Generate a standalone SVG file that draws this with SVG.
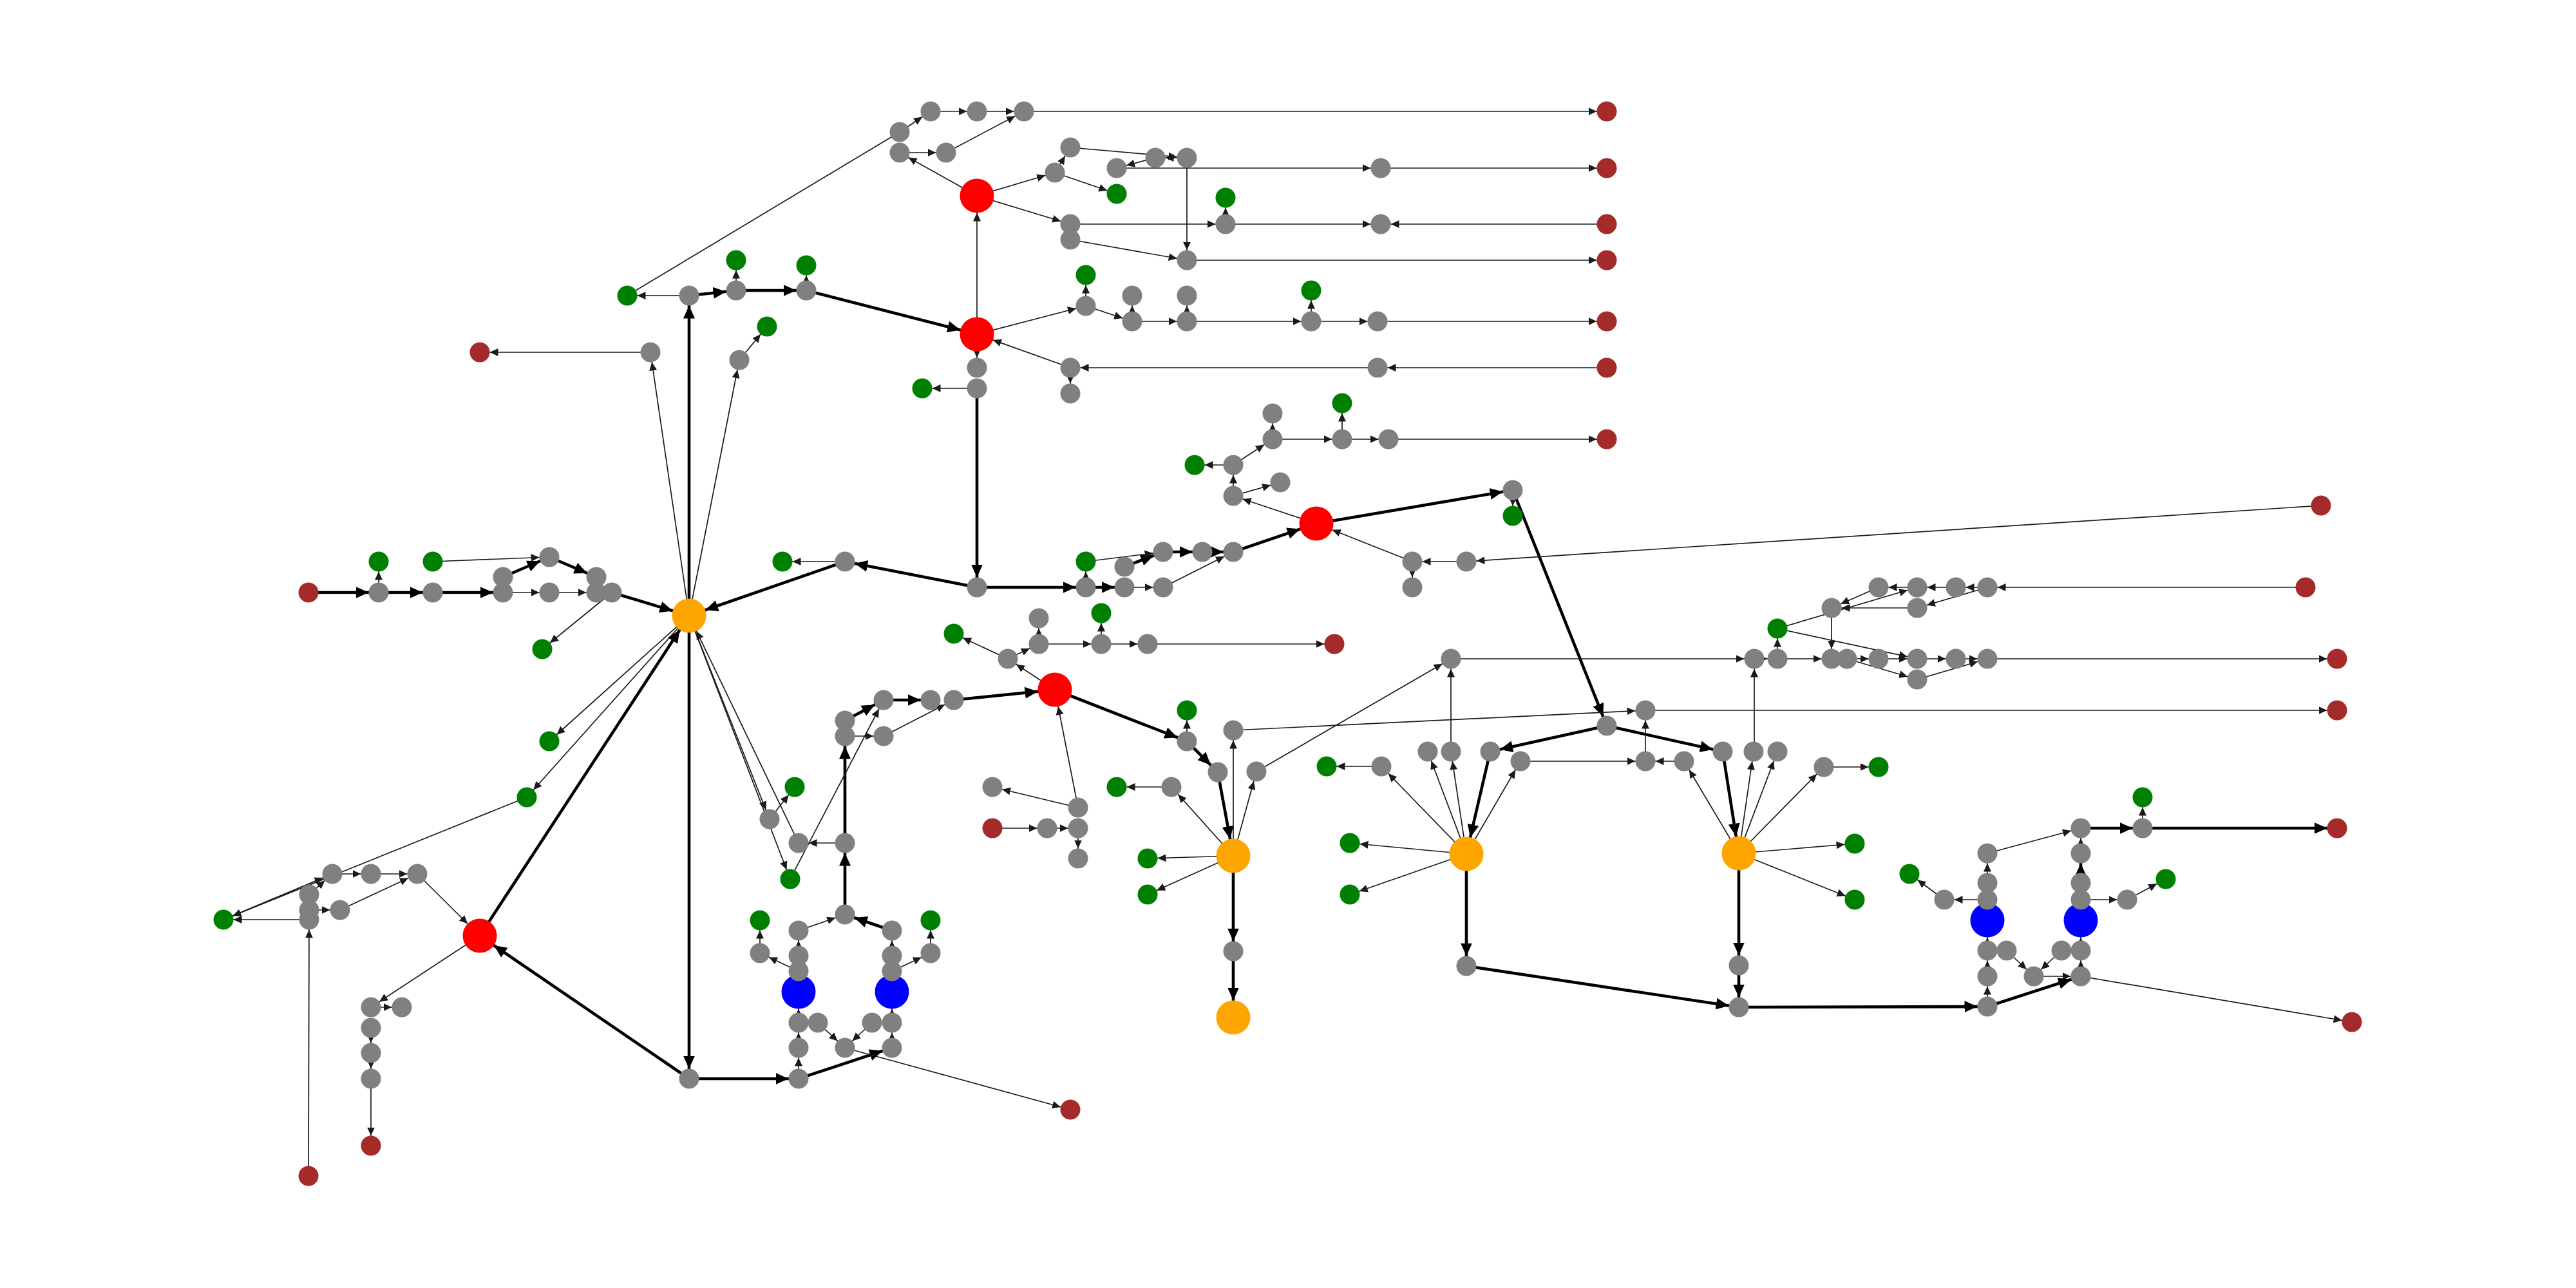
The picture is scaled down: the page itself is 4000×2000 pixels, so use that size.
<svg xmlns="http://www.w3.org/2000/svg" width="4000" height="2000" viewBox="0 0 4000 2000">
<style>
.e{stroke:#1a1a1a;stroke-width:1.7;fill:none}
.p{stroke:#1a1a1a;stroke-width:1.7;fill:none}
.k{stroke:#000;stroke-width:4.6;fill:none}
.ms{marker-end:url(#ms)}
.mb{marker-end:url(#mb)}
.Ms{marker-end:url(#Ms)}
.Mb{marker-end:url(#Mb)}
.gr{fill:#808080}
.gn{fill:#008000}
.br{fill:#a52a2a}
.rd{fill:#ff0000}
.or{fill:#ffa500}
.bl{fill:#0000ff}
</style>
<defs>
<marker id="ms" markerUnits="userSpaceOnUse" viewBox="0 -10 40 20" markerWidth="40" markerHeight="20" refX="28.5" refY="0" orient="auto"><path d="M0,-6 L13,0 L0,6 z" fill="#1a1a1a"/></marker>
<marker id="mb" markerUnits="userSpaceOnUse" viewBox="0 -10 45 20" markerWidth="45" markerHeight="20" refX="39.5" refY="0" orient="auto"><path d="M0,-6 L13,0 L0,6 z" fill="#1a1a1a"/></marker>
<marker id="Ms" markerUnits="userSpaceOnUse" viewBox="0 -10 40 20" markerWidth="40" markerHeight="20" refX="35.5" refY="0" orient="auto"><path d="M0,-9 L20,0 L0,9 z" fill="#000"/></marker>
<marker id="Mb" markerUnits="userSpaceOnUse" viewBox="0 -10 50 20" markerWidth="50" markerHeight="20" refX="46.5" refY="0" orient="auto"><path d="M0,-9 L20,0 L0,9 z" fill="#000"/></marker>
</defs>
<rect width="4000" height="2000" fill="#fff"/>
<g id="connectors">
<line class="e ms" x1="1070" y1="459" x2="974" y2="459"/>
<line class="k Ms" x1="1070" y1="459" x2="1143" y2="451"/>
<line class="e ms" x1="1143" y1="451" x2="1143" y2="404"/>
<line class="k Ms" x1="1143" y1="451" x2="1252" y2="451"/>
<line class="e ms" x1="1252" y1="451" x2="1252" y2="412"/>
<line class="k Mb" x1="1252" y1="451" x2="1517" y2="519"/>
<line class="e ms" x1="1010" y1="547" x2="745" y2="547"/>
<line class="e ms" x1="1148" y1="559" x2="1191" y2="507"/>
<line class="k Ms" x1="1070" y1="956" x2="1070" y2="459"/>
<line class="e ms" x1="1070" y1="956" x2="1010" y2="547"/>
<line class="e ms" x1="1070" y1="956" x2="1148" y2="559"/>
<line class="p" x1="974" y1="459" x2="1397" y2="205"/>
<line class="e ms" x1="1397" y1="205" x2="1445" y2="173"/>
<line class="e ms" x1="1445" y1="173" x2="1517" y2="173"/>
<line class="e ms" x1="1517" y1="173" x2="1590" y2="173"/>
<line class="e ms" x1="1397" y1="237" x2="1469" y2="237"/>
<line class="e ms" x1="1469" y1="237" x2="1590" y2="173"/>
<line class="e ms" x1="1517" y1="304" x2="1397" y2="237"/>
<line class="e ms" x1="1590" y1="173" x2="2495" y2="173"/>
<line class="e ms" x1="1517" y1="304" x2="1638" y2="268"/>
<line class="e ms" x1="1638" y1="268" x2="1662" y2="229"/>
<line class="e ms" x1="1638" y1="268" x2="1734" y2="301"/>
<line class="e ms" x1="1662" y1="229" x2="1843" y2="245"/>
<line class="e ms" x1="1843" y1="245" x2="1794" y2="245"/>
<line class="e ms" x1="1794" y1="245" x2="1734" y2="261"/>
<line class="e ms" x1="1734" y1="261" x2="2144" y2="261"/>
<line class="e ms" x1="2144" y1="261" x2="2495" y2="261"/>
<line class="e ms" x1="1843" y1="245" x2="1843" y2="404"/>
<line class="e ms" x1="1843" y1="404" x2="2495" y2="404"/>
<line class="e ms" x1="1662" y1="372" x2="1843" y2="404"/>
<line class="e ms" x1="1517" y1="304" x2="1662" y2="348"/>
<line class="e ms" x1="1662" y1="348" x2="1903" y2="348"/>
<line class="e ms" x1="1903" y1="348" x2="1903" y2="307"/>
<line class="e ms" x1="1903" y1="348" x2="2144" y2="348"/>
<line class="e ms" x1="2495" y1="348" x2="2144" y2="348"/>
<line class="e mb" x1="1517" y1="519" x2="1517" y2="304"/>
<line class="e ms" x1="1517" y1="519" x2="1686" y2="475"/>
<line class="e ms" x1="1686" y1="475" x2="1686" y2="427"/>
<line class="e ms" x1="1686" y1="475" x2="1758" y2="499"/>
<line class="e ms" x1="1758" y1="499" x2="1758" y2="459"/>
<line class="e ms" x1="1758" y1="499" x2="1843" y2="499"/>
<line class="e ms" x1="1843" y1="499" x2="1843" y2="459"/>
<line class="e ms" x1="1843" y1="499" x2="2036" y2="499"/>
<line class="e ms" x1="2036" y1="499" x2="2036" y2="451"/>
<line class="e ms" x1="2036" y1="499" x2="2139" y2="499"/>
<line class="e ms" x1="2139" y1="499" x2="2495" y2="499"/>
<line class="e mb" x1="1662" y1="571" x2="1517" y2="519"/>
<line class="e ms" x1="1662" y1="571" x2="1662" y2="611"/>
<line class="e ms" x1="2495" y1="571" x2="2139" y2="571"/>
<line class="e ms" x1="2139" y1="571" x2="1662" y2="571"/>
<line class="e ms" x1="1517" y1="519" x2="1517" y2="571"/>
<line class="e ms" x1="1517" y1="603" x2="1432" y2="603"/>
<line class="k Ms" x1="1517" y1="603" x2="1517" y2="912"/>
<line class="e ms" x1="1915" y1="770" x2="1915" y2="722"/>
<line class="e ms" x1="1915" y1="722" x2="1855" y2="722"/>
<line class="e ms" x1="1915" y1="770" x2="1988" y2="749"/>
<line class="e ms" x1="2044" y1="813" x2="1915" y2="770"/>
<line class="e ms" x1="1915" y1="722" x2="1976" y2="682"/>
<line class="e ms" x1="1976" y1="682" x2="1976" y2="642"/>
<line class="e ms" x1="1976" y1="682" x2="2084" y2="682"/>
<line class="e ms" x1="2084" y1="682" x2="2084" y2="626"/>
<line class="e ms" x1="2084" y1="682" x2="2156" y2="682"/>
<line class="e ms" x1="2156" y1="682" x2="2495" y2="682"/>
<line class="k Mb" x1="1915" y1="857" x2="2044" y2="813"/>
<line class="k Ms" x1="2044" y1="813" x2="2349" y2="761"/>
<line class="e ms" x1="2349" y1="761" x2="2349" y2="801"/>
<line class="k Ms" x1="2349" y1="761" x2="2495" y2="1127"/>
<line class="e ms" x1="2277" y1="872" x2="2193" y2="872"/>
<line class="e mb" x1="2193" y1="872" x2="2044" y2="813"/>
<line class="e ms" x1="2193" y1="872" x2="2193" y2="912"/>
<line class="e ms" x1="3604" y1="785" x2="2277" y2="872"/>
<line class="k Ms" x1="479" y1="920" x2="588" y2="920"/>
<line class="e ms" x1="588" y1="920" x2="588" y2="872"/>
<line class="k Ms" x1="588" y1="920" x2="672" y2="920"/>
<line class="k Ms" x1="672" y1="920" x2="781" y2="920"/>
<line class="k Ms" x1="781" y1="896" x2="853" y2="865"/>
<line class="e ms" x1="672" y1="872" x2="853" y2="865"/>
<line class="k Ms" x1="853" y1="865" x2="926" y2="896"/>
<line class="e ms" x1="781" y1="920" x2="853" y2="920"/>
<line class="e ms" x1="853" y1="920" x2="926" y2="920"/>
<line class="k Mb" x1="950" y1="920" x2="1070" y2="956"/>
<line class="e ms" x1="950" y1="920" x2="842" y2="1008"/>
<line class="e ms" x1="1070" y1="956" x2="853" y2="1151"/>
<line class="e ms" x1="1070" y1="956" x2="818" y2="1238"/>
<line class="k Mb" x1="745" y1="1453" x2="1070" y2="956"/>
<line class="k Ms" x1="1070" y1="956" x2="1070" y2="1675"/>
<line class="k Mb" x1="1312" y1="872" x2="1070" y2="956"/>
<line class="k Ms" x1="1517" y1="912" x2="1312" y2="872"/>
<line class="e ms" x1="1312" y1="872" x2="1215" y2="872"/>
<line class="k Ms" x1="1517" y1="912" x2="1686" y2="912"/>
<line class="e ms" x1="1686" y1="912" x2="1686" y2="872"/>
<line class="k Ms" x1="1686" y1="912" x2="1746" y2="912"/>
<line class="k Ms" x1="1746" y1="880" x2="1806" y2="857"/>
<line class="e ms" x1="1686" y1="872" x2="1806" y2="857"/>
<line class="k Ms" x1="1806" y1="857" x2="1867" y2="857"/>
<line class="k Ms" x1="1867" y1="857" x2="1915" y2="857"/>
<line class="e ms" x1="1746" y1="912" x2="1806" y2="912"/>
<line class="e ms" x1="1806" y1="912" x2="1915" y2="857"/>
<line class="e ms" x1="1638" y1="1071" x2="1565" y2="1023"/>
<line class="e ms" x1="1565" y1="1023" x2="1481" y2="984"/>
<line class="e ms" x1="1565" y1="1023" x2="1613" y2="1000"/>
<line class="e ms" x1="1613" y1="1000" x2="1613" y2="960"/>
<line class="e ms" x1="1613" y1="1000" x2="1710" y2="1000"/>
<line class="e ms" x1="1710" y1="1000" x2="1710" y2="952"/>
<line class="e ms" x1="1710" y1="1000" x2="1782" y2="1000"/>
<line class="e ms" x1="1782" y1="1000" x2="2072" y2="1000"/>
<line class="k Mb" x1="1481" y1="1087" x2="1638" y2="1071"/>
<line class="k Ms" x1="1312" y1="1119" x2="1372" y2="1087"/>
<line class="k Ms" x1="1372" y1="1087" x2="1445" y2="1087"/>
<line class="e ms" x1="1312" y1="1143" x2="1372" y2="1143"/>
<line class="e ms" x1="1372" y1="1143" x2="1481" y2="1087"/>
<line class="k Ms" x1="1312" y1="1309" x2="1312" y2="1143"/>
<line class="e ms" x1="1227" y1="1365" x2="1372" y2="1087"/>
<line class="e ms" x1="1312" y1="1309" x2="1240" y2="1309"/>
<line class="e ms" x1="1070" y1="956" x2="1195" y2="1272"/>
<line class="e ms" x1="1070" y1="956" x2="1227" y2="1365"/>
<line class="e mb" x1="1240" y1="1309" x2="1070" y2="956"/>
<line class="e ms" x1="1195" y1="1272" x2="1234" y2="1222"/>
<line class="e mb" x1="1674" y1="1254" x2="1638" y2="1071"/>
<line class="e ms" x1="1674" y1="1254" x2="1541" y2="1222"/>
<line class="e ms" x1="1541" y1="1286" x2="1626" y2="1286"/>
<line class="e ms" x1="1626" y1="1286" x2="1674" y2="1286"/>
<line class="e ms" x1="1674" y1="1286" x2="1674" y2="1333"/>
<line class="k Ms" x1="1638" y1="1071" x2="1843" y2="1151"/>
<line class="e ms" x1="1843" y1="1151" x2="1843" y2="1103"/>
<line class="k Ms" x1="1843" y1="1151" x2="1891" y2="1199"/>
<line class="k Mb" x1="1891" y1="1199" x2="1915" y2="1329"/>
<line class="e ms" x1="1915" y1="1329" x2="1915" y2="1134"/>
<line class="e ms" x1="1915" y1="1134" x2="2555" y2="1103"/>
<line class="e ms" x1="1915" y1="1329" x2="1819" y2="1222"/>
<line class="e ms" x1="1819" y1="1222" x2="1734" y2="1222"/>
<line class="e ms" x1="1915" y1="1329" x2="1782" y2="1333"/>
<line class="e ms" x1="1915" y1="1329" x2="1782" y2="1389"/>
<line class="e ms" x1="1915" y1="1329" x2="1951" y2="1198"/>
<line class="e ms" x1="1951" y1="1198" x2="2253" y2="1023"/>
<line class="k Ms" x1="1915" y1="1329" x2="1915" y2="1477"/>
<line class="k Mb" x1="1915" y1="1477" x2="1915" y2="1580"/>
<line class="k Ms" x1="1312" y1="1420" x2="1312" y2="1309"/>
<line class="e ms" x1="1240" y1="1445" x2="1312" y2="1420"/>
<line class="k Ms" x1="1385" y1="1445" x2="1312" y2="1420"/>
<line class="e ms" x1="1240" y1="1484" x2="1240" y2="1445"/>
<line class="e ms" x1="1385" y1="1484" x2="1385" y2="1445"/>
<line class="e ms" x1="1240" y1="1508" x2="1180" y2="1480"/>
<line class="e ms" x1="1180" y1="1480" x2="1180" y2="1429"/>
<line class="e ms" x1="1385" y1="1508" x2="1445" y2="1480"/>
<line class="e ms" x1="1445" y1="1480" x2="1445" y2="1429"/>
<line class="e mb" x1="1240" y1="1588" x2="1240" y2="1540"/>
<line class="e mb" x1="1385" y1="1588" x2="1385" y2="1540"/>
<line class="e ms" x1="1240" y1="1627" x2="1240" y2="1588"/>
<line class="e ms" x1="1270" y1="1588" x2="1312" y2="1627"/>
<line class="e ms" x1="1354" y1="1588" x2="1312" y2="1627"/>
<line class="e ms" x1="1240" y1="1675" x2="1240" y2="1627"/>
<line class="k Ms" x1="1240" y1="1675" x2="1385" y2="1627"/>
<line class="e ms" x1="1385" y1="1627" x2="1385" y2="1588"/>
<line class="e ms" x1="1312" y1="1627" x2="1662" y2="1723"/>
<line class="k Ms" x1="1070" y1="1675" x2="1240" y2="1675"/>
<line class="k Mb" x1="1070" y1="1675" x2="745" y2="1453"/>
<line class="e ms" x1="516" y1="1357" x2="576" y2="1357"/>
<line class="e ms" x1="576" y1="1357" x2="648" y2="1357"/>
<line class="e ms" x1="528" y1="1413" x2="648" y2="1357"/>
<line class="e ms" x1="480" y1="1413" x2="528" y2="1413"/>
<line class="e ms" x1="480" y1="1428" x2="347" y2="1428"/>
<line class="e ms" x1="479" y1="1826" x2="480" y2="1428"/>
<line class="e mb" x1="648" y1="1357" x2="745" y2="1453"/>
<line class="e ms" x1="745" y1="1453" x2="576" y2="1564"/>
<line class="e ms" x1="576" y1="1564" x2="624" y2="1564"/>
<line class="e ms" x1="576" y1="1596" x2="576" y2="1635"/>
<line class="e ms" x1="576" y1="1635" x2="576" y2="1675"/>
<line class="e ms" x1="576" y1="1675" x2="576" y2="1779"/>
<line class="e ms" x1="818" y1="1238" x2="347" y2="1428"/>
<line class="e ms" x1="347" y1="1428" x2="516" y2="1357"/>
<line class="e ms" x1="480" y1="1389" x2="516" y2="1357"/>
<line class="e ms" x1="2253" y1="1167" x2="2253" y2="1023"/>
<line class="e ms" x1="2253" y1="1023" x2="2724" y2="1023"/>
<line class="k Ms" x1="2495" y1="1127" x2="2314" y2="1167"/>
<line class="k Ms" x1="2495" y1="1127" x2="2675" y2="1167"/>
<line class="e ms" x1="2555" y1="1182" x2="2555" y2="1103"/>
<line class="e ms" x1="2361" y1="1182" x2="2555" y2="1182"/>
<line class="e ms" x1="2615" y1="1182" x2="2555" y2="1182"/>
<line class="e ms" x1="2145" y1="1190" x2="2060" y2="1190"/>
<line class="e ms" x1="2277" y1="1326" x2="2145" y2="1190"/>
<line class="e ms" x1="2277" y1="1326" x2="2217" y2="1167"/>
<line class="e ms" x1="2277" y1="1326" x2="2253" y2="1167"/>
<line class="k Mb" x1="2314" y1="1167" x2="2277" y2="1326"/>
<line class="e ms" x1="2277" y1="1326" x2="2361" y2="1182"/>
<line class="e ms" x1="2277" y1="1326" x2="2096" y2="1309"/>
<line class="e ms" x1="2277" y1="1326" x2="2096" y2="1389"/>
<line class="k Ms" x1="2277" y1="1326" x2="2277" y2="1500"/>
<line class="k Ms" x1="2277" y1="1500" x2="2700" y2="1564"/>
<line class="e ms" x1="2700" y1="1325" x2="2615" y2="1182"/>
<line class="k Mb" x1="2675" y1="1167" x2="2700" y2="1325"/>
<line class="e ms" x1="2700" y1="1325" x2="2723" y2="1167"/>
<line class="e ms" x1="2700" y1="1325" x2="2760" y2="1167"/>
<line class="e ms" x1="2700" y1="1325" x2="2832" y2="1191"/>
<line class="e ms" x1="2832" y1="1191" x2="2917" y2="1191"/>
<line class="e ms" x1="2700" y1="1325" x2="2880" y2="1310"/>
<line class="e ms" x1="2700" y1="1325" x2="2880" y2="1397"/>
<line class="k Ms" x1="2700" y1="1325" x2="2700" y2="1499"/>
<line class="k Ms" x1="2700" y1="1499" x2="2700" y2="1564"/>
<line class="e ms" x1="2724" y1="1167" x2="2724" y2="1023"/>
<line class="e ms" x1="2724" y1="1023" x2="2760" y2="1023"/>
<line class="e ms" x1="2760" y1="1023" x2="2760" y2="976"/>
<line class="e ms" x1="2760" y1="1023" x2="2844" y2="1023"/>
<line class="e ms" x1="2868" y1="1023" x2="2917" y2="1023"/>
<line class="e ms" x1="2760" y1="976" x2="2977" y2="1023"/>
<line class="e ms" x1="2917" y1="1023" x2="2977" y2="1023"/>
<line class="e ms" x1="2977" y1="1023" x2="3037" y2="1023"/>
<line class="e ms" x1="3037" y1="1023" x2="3086" y2="1023"/>
<line class="e ms" x1="3086" y1="1023" x2="3629" y2="1023"/>
<line class="e ms" x1="2868" y1="1023" x2="2977" y2="1055"/>
<line class="e ms" x1="2977" y1="1055" x2="3086" y2="1023"/>
<line class="e ms" x1="2555" y1="1103" x2="3629" y2="1103"/>
<line class="e ms" x1="3580" y1="912" x2="3086" y2="912"/>
<line class="e ms" x1="3086" y1="912" x2="3037" y2="912"/>
<line class="e ms" x1="3037" y1="912" x2="2977" y2="912"/>
<line class="e ms" x1="2977" y1="912" x2="2917" y2="912"/>
<line class="e ms" x1="2917" y1="912" x2="2844" y2="944"/>
<line class="e ms" x1="2977" y1="944" x2="2844" y2="944"/>
<line class="e ms" x1="3086" y1="912" x2="2977" y2="944"/>
<line class="e ms" x1="2760" y1="976" x2="2977" y2="912"/>
<line class="e ms" x1="2844" y1="944" x2="2844" y2="1023"/>
<line class="k Ms" x1="2700" y1="1564" x2="3086" y2="1563"/>
<line class="e ms" x1="3086" y1="1563" x2="3086" y2="1516"/>
<line class="e ms" x1="3086" y1="1516" x2="3086" y2="1476"/>
<line class="k Ms" x1="3086" y1="1563" x2="3231" y2="1516"/>
<line class="e ms" x1="3158" y1="1516" x2="3231" y2="1516"/>
<line class="e ms" x1="3116" y1="1476" x2="3158" y2="1516"/>
<line class="e ms" x1="3201" y1="1476" x2="3158" y2="1516"/>
<line class="e ms" x1="3231" y1="1516" x2="3231" y2="1476"/>
<line class="e ms" x1="3231" y1="1516" x2="3652" y2="1587"/>
<line class="e ms" x1="3086" y1="1371" x2="3086" y2="1325"/>
<line class="e ms" x1="3086" y1="1397" x2="3019" y2="1397"/>
<line class="e ms" x1="3019" y1="1397" x2="2965" y2="1357"/>
<line class="e ms" x1="3086" y1="1325" x2="3231" y2="1286"/>
<line class="k Ms" x1="3231" y1="1371" x2="3231" y2="1325"/>
<line class="e ms" x1="3231" y1="1325" x2="3231" y2="1286"/>
<line class="e ms" x1="3231" y1="1397" x2="3303" y2="1397"/>
<line class="e ms" x1="3303" y1="1397" x2="3363" y2="1365"/>
<line class="k Ms" x1="3231" y1="1286" x2="3327" y2="1286"/>
<line class="e ms" x1="3327" y1="1286" x2="3327" y2="1238"/>
<line class="k Ms" x1="3327" y1="1286" x2="3629" y2="1286"/>
<line class="e mb" x1="3086" y1="1476" x2="3086" y2="1429"/>
<line class="e mb" x1="3231" y1="1476" x2="3231" y2="1429"/>
</g>
<g id="nodes">
<g id="BL1"><circle class="bl" cx="1240" cy="1540" r="26.5"/></g>
<g id="BL2"><circle class="bl" cx="1385" cy="1540" r="26.5"/></g>
<g id="BL3"><circle class="bl" cx="3086" cy="1429" r="26.5"/></g>
<g id="BL4"><circle class="bl" cx="3231" cy="1429" r="26.5"/></g>
<g id="R1"><circle class="rd" cx="1517" cy="304" r="26.5"/></g>
<g id="R2"><circle class="rd" cx="1517" cy="519" r="26.5"/></g>
<g id="R3"><circle class="rd" cx="2044" cy="813" r="26.5"/></g>
<g id="R4"><circle class="rd" cx="1638" cy="1071" r="26.5"/></g>
<g id="R5"><circle class="rd" cx="745" cy="1453" r="26.5"/></g>
<g id="O1"><circle class="or" cx="1070" cy="956" r="26.5"/></g>
<g id="O2"><circle class="or" cx="1915" cy="1329" r="26.5"/></g>
<g id="O3"><circle class="or" cx="1915" cy="1580" r="26.5"/></g>
<g id="O4"><circle class="or" cx="2277" cy="1326" r="26.5"/></g>
<g id="O5"><circle class="or" cx="2700" cy="1325" r="26.5"/></g>
<g id="n001"><circle class="br" cx="745" cy="547" r="15.5"/></g>
<g id="n002"><circle class="gr" cx="1010" cy="547" r="15.5"/></g>
<g id="n003"><circle class="gr" cx="1148" cy="559" r="15.5"/></g>
<g id="n004"><circle class="gn" cx="1191" cy="507" r="15.5"/></g>
<g id="n005"><circle class="gn" cx="974" cy="459" r="15.5"/></g>
<g id="n006"><circle class="gr" cx="1070" cy="459" r="15.5"/></g>
<g id="n007"><circle class="gr" cx="1143" cy="451" r="15.5"/></g>
<g id="n008"><circle class="gn" cx="1143" cy="404" r="15.5"/></g>
<g id="n009"><circle class="gr" cx="1252" cy="451" r="15.5"/></g>
<g id="n010"><circle class="gn" cx="1252" cy="412" r="15.5"/></g>
<g id="n011"><circle class="gr" cx="1397" cy="205" r="15.5"/></g>
<g id="n012"><circle class="gr" cx="1397" cy="237" r="15.5"/></g>
<g id="n013"><circle class="gr" cx="1445" cy="173" r="15.5"/></g>
<g id="n014"><circle class="gr" cx="1517" cy="173" r="15.5"/></g>
<g id="n015"><circle class="gr" cx="1590" cy="173" r="15.5"/></g>
<g id="n016"><circle class="gr" cx="1469" cy="237" r="15.5"/></g>
<g id="n017"><circle class="gr" cx="1638" cy="268" r="15.5"/></g>
<g id="n018"><circle class="gr" cx="1662" cy="229" r="15.5"/></g>
<g id="n019"><circle class="gn" cx="1734" cy="301" r="15.5"/></g>
<g id="n020"><circle class="gr" cx="1794" cy="245" r="15.5"/></g>
<g id="n021"><circle class="gr" cx="1843" cy="245" r="15.5"/></g>
<g id="n022"><circle class="gr" cx="1734" cy="261" r="15.5"/></g>
<g id="n023"><circle class="gr" cx="1662" cy="348" r="15.5"/></g>
<g id="n024"><circle class="gr" cx="1662" cy="372" r="15.5"/></g>
<g id="n025"><circle class="gr" cx="1903" cy="348" r="15.5"/></g>
<g id="n026"><circle class="gn" cx="1903" cy="307" r="15.5"/></g>
<g id="n027"><circle class="gr" cx="1843" cy="404" r="15.5"/></g>
<g id="n028"><circle class="gr" cx="1686" cy="475" r="15.5"/></g>
<g id="n029"><circle class="gn" cx="1686" cy="427" r="15.5"/></g>
<g id="n030"><circle class="gr" cx="1758" cy="499" r="15.5"/></g>
<g id="n031"><circle class="gr" cx="1758" cy="459" r="15.5"/></g>
<g id="n032"><circle class="gr" cx="1843" cy="499" r="15.5"/></g>
<g id="n033"><circle class="gr" cx="1843" cy="459" r="15.5"/></g>
<g id="n034"><circle class="gr" cx="1517" cy="571" r="15.5"/></g>
<g id="n035"><circle class="gr" cx="1517" cy="603" r="15.5"/></g>
<g id="n036"><circle class="gn" cx="1432" cy="603" r="15.5"/></g>
<g id="n037"><circle class="gr" cx="1662" cy="571" r="15.5"/></g>
<g id="n038"><circle class="gr" cx="1662" cy="611" r="15.5"/></g>
<g id="n039"><circle class="br" cx="2495" cy="173" r="15.5"/></g>
<g id="n040"><circle class="gr" cx="2144" cy="261" r="15.5"/></g>
<g id="n041"><circle class="br" cx="2495" cy="261" r="15.5"/></g>
<g id="n042"><circle class="gr" cx="2144" cy="348" r="15.5"/></g>
<g id="n043"><circle class="br" cx="2495" cy="348" r="15.5"/></g>
<g id="n044"><circle class="br" cx="2495" cy="404" r="15.5"/></g>
<g id="n045"><circle class="gr" cx="2036" cy="499" r="15.5"/></g>
<g id="n046"><circle class="gn" cx="2036" cy="451" r="15.5"/></g>
<g id="n047"><circle class="gr" cx="2139" cy="499" r="15.5"/></g>
<g id="n048"><circle class="br" cx="2495" cy="499" r="15.5"/></g>
<g id="n049"><circle class="gr" cx="2139" cy="571" r="15.5"/></g>
<g id="n050"><circle class="br" cx="2495" cy="571" r="15.5"/></g>
<g id="n051"><circle class="gn" cx="1855" cy="722" r="15.5"/></g>
<g id="n052"><circle class="gr" cx="1915" cy="722" r="15.5"/></g>
<g id="n053"><circle class="gr" cx="1915" cy="770" r="15.5"/></g>
<g id="n054"><circle class="gr" cx="1988" cy="749" r="15.5"/></g>
<g id="n055"><circle class="gr" cx="1976" cy="682" r="15.5"/></g>
<g id="n056"><circle class="gr" cx="1976" cy="642" r="15.5"/></g>
<g id="n057"><circle class="gn" cx="2084" cy="626" r="15.5"/></g>
<g id="n058"><circle class="gr" cx="2084" cy="682" r="15.5"/></g>
<g id="n059"><circle class="gr" cx="2156" cy="682" r="15.5"/></g>
<g id="n060"><circle class="br" cx="2495" cy="682" r="15.5"/></g>
<g id="n061"><circle class="gr" cx="2349" cy="761" r="15.5"/></g>
<g id="n062"><circle class="gn" cx="2349" cy="801" r="15.5"/></g>
<g id="n063"><circle class="gr" cx="2193" cy="872" r="15.5"/></g>
<g id="n064"><circle class="gr" cx="2277" cy="872" r="15.5"/></g>
<g id="n065"><circle class="gr" cx="2193" cy="912" r="15.5"/></g>
<g id="n066"><circle class="br" cx="3604" cy="785" r="15.5"/></g>
<g id="n067"><circle class="br" cx="479" cy="920" r="15.5"/></g>
<g id="n068"><circle class="gr" cx="588" cy="920" r="15.5"/></g>
<g id="n069"><circle class="gn" cx="588" cy="872" r="15.5"/></g>
<g id="n070"><circle class="gr" cx="672" cy="920" r="15.5"/></g>
<g id="n071"><circle class="gn" cx="672" cy="872" r="15.5"/></g>
<g id="n072"><circle class="gr" cx="781" cy="920" r="15.5"/></g>
<g id="n073"><circle class="gr" cx="781" cy="896" r="15.5"/></g>
<g id="n074"><circle class="gr" cx="853" cy="865" r="15.5"/></g>
<g id="n075"><circle class="gr" cx="853" cy="920" r="15.5"/></g>
<g id="n076"><circle class="gr" cx="926" cy="896" r="15.5"/></g>
<g id="n077"><circle class="gr" cx="926" cy="920" r="15.5"/></g>
<g id="n078"><circle class="gr" cx="950" cy="920" r="15.5"/></g>
<g id="n079"><circle class="gn" cx="842" cy="1008" r="15.5"/></g>
<g id="n080"><circle class="gn" cx="853" cy="1151" r="15.5"/></g>
<g id="n081"><circle class="gn" cx="818" cy="1238" r="15.5"/></g>
<g id="n082"><circle class="gr" cx="1517" cy="912" r="15.5"/></g>
<g id="n083"><circle class="gr" cx="1312" cy="872" r="15.5"/></g>
<g id="n084"><circle class="gn" cx="1215" cy="872" r="15.5"/></g>
<g id="n085"><circle class="gr" cx="1686" cy="912" r="15.5"/></g>
<g id="n086"><circle class="gn" cx="1686" cy="872" r="15.5"/></g>
<g id="n087"><circle class="gr" cx="1746" cy="912" r="15.5"/></g>
<g id="n088"><circle class="gr" cx="1746" cy="880" r="15.5"/></g>
<g id="n089"><circle class="gr" cx="1806" cy="857" r="15.5"/></g>
<g id="n090"><circle class="gr" cx="1867" cy="857" r="15.5"/></g>
<g id="n091"><circle class="gr" cx="1915" cy="857" r="15.5"/></g>
<g id="n092"><circle class="gr" cx="1806" cy="912" r="15.5"/></g>
<g id="n093"><circle class="gn" cx="1481" cy="984" r="15.5"/></g>
<g id="n094"><circle class="gr" cx="1613" cy="960" r="15.5"/></g>
<g id="n095"><circle class="gr" cx="1613" cy="1000" r="15.5"/></g>
<g id="n096"><circle class="gr" cx="1565" cy="1023" r="15.5"/></g>
<g id="n097"><circle class="gn" cx="1710" cy="952" r="15.5"/></g>
<g id="n098"><circle class="gr" cx="1710" cy="1000" r="15.5"/></g>
<g id="n099"><circle class="gr" cx="1782" cy="1000" r="15.5"/></g>
<g id="n100"><circle class="br" cx="2072" cy="1000" r="15.5"/></g>
<g id="n101"><circle class="gr" cx="1372" cy="1087" r="15.5"/></g>
<g id="n102"><circle class="gr" cx="1445" cy="1087" r="15.5"/></g>
<g id="n103"><circle class="gr" cx="1481" cy="1087" r="15.5"/></g>
<g id="n104"><circle class="gr" cx="1312" cy="1119" r="15.5"/></g>
<g id="n105"><circle class="gr" cx="1312" cy="1143" r="15.5"/></g>
<g id="n106"><circle class="gr" cx="1372" cy="1143" r="15.5"/></g>
<g id="n107"><circle class="gn" cx="1843" cy="1103" r="15.5"/></g>
<g id="n108"><circle class="gr" cx="1843" cy="1151" r="15.5"/></g>
<g id="n109"><circle class="gr" cx="1915" cy="1134" r="15.5"/></g>
<g id="n110"><circle class="gr" cx="1891" cy="1199" r="15.5"/></g>
<g id="n111"><circle class="gr" cx="1951" cy="1198" r="15.5"/></g>
<g id="n112"><circle class="gn" cx="1234" cy="1222" r="15.5"/></g>
<g id="n113"><circle class="gr" cx="1195" cy="1272" r="15.5"/></g>
<g id="n114"><circle class="gr" cx="1240" cy="1309" r="15.5"/></g>
<g id="n115"><circle class="gr" cx="1312" cy="1309" r="15.5"/></g>
<g id="n116"><circle class="gn" cx="1227" cy="1365" r="15.5"/></g>
<g id="n117"><circle class="gr" cx="1541" cy="1222" r="15.5"/></g>
<g id="n118"><circle class="gr" cx="1674" cy="1254" r="15.5"/></g>
<g id="n119"><circle class="br" cx="1541" cy="1286" r="15.5"/></g>
<g id="n120"><circle class="gr" cx="1626" cy="1286" r="15.5"/></g>
<g id="n121"><circle class="gr" cx="1674" cy="1286" r="15.5"/></g>
<g id="n122"><circle class="gr" cx="1674" cy="1333" r="15.5"/></g>
<g id="n123"><circle class="gn" cx="1734" cy="1222" r="15.5"/></g>
<g id="n124"><circle class="gr" cx="1819" cy="1222" r="15.5"/></g>
<g id="n125"><circle class="gn" cx="1782" cy="1333" r="15.5"/></g>
<g id="n126"><circle class="gn" cx="1782" cy="1389" r="15.5"/></g>
<g id="n127"><circle class="gr" cx="1915" cy="1477" r="15.5"/></g>
<g id="n128"><circle class="gr" cx="1312" cy="1420" r="15.5"/></g>
<g id="n129"><circle class="gr" cx="1240" cy="1445" r="15.5"/></g>
<g id="n130"><circle class="gr" cx="1385" cy="1445" r="15.5"/></g>
<g id="n131"><circle class="gn" cx="1180" cy="1429" r="15.5"/></g>
<g id="n132"><circle class="gn" cx="1445" cy="1429" r="15.5"/></g>
<g id="n133"><circle class="gr" cx="1180" cy="1480" r="15.5"/></g>
<g id="n134"><circle class="gr" cx="1445" cy="1480" r="15.5"/></g>
<g id="n135"><circle class="gr" cx="1240" cy="1484" r="15.5"/></g>
<g id="n136"><circle class="gr" cx="1240" cy="1508" r="15.5"/></g>
<g id="n137"><circle class="gr" cx="1385" cy="1484" r="15.5"/></g>
<g id="n138"><circle class="gr" cx="1385" cy="1508" r="15.5"/></g>
<g id="n139"><circle class="gr" cx="1240" cy="1588" r="15.5"/></g>
<g id="n140"><circle class="gr" cx="1270" cy="1588" r="15.5"/></g>
<g id="n141"><circle class="gr" cx="1354" cy="1588" r="15.5"/></g>
<g id="n142"><circle class="gr" cx="1385" cy="1588" r="15.5"/></g>
<g id="n143"><circle class="gr" cx="1312" cy="1627" r="15.5"/></g>
<g id="n144"><circle class="gr" cx="1240" cy="1627" r="15.5"/></g>
<g id="n145"><circle class="gr" cx="1385" cy="1627" r="15.5"/></g>
<g id="n146"><circle class="gr" cx="1240" cy="1675" r="15.5"/></g>
<g id="n147"><circle class="br" cx="1662" cy="1723" r="15.5"/></g>
<g id="n148"><circle class="gr" cx="1070" cy="1675" r="15.5"/></g>
<g id="n149"><circle class="gr" cx="516" cy="1357" r="15.5"/></g>
<g id="n150"><circle class="gr" cx="576" cy="1357" r="15.5"/></g>
<g id="n151"><circle class="gr" cx="648" cy="1357" r="15.5"/></g>
<g id="n152"><circle class="gr" cx="480" cy="1389" r="15.5"/></g>
<g id="n153"><circle class="gr" cx="480" cy="1413" r="15.5"/></g>
<g id="n154"><circle class="gr" cx="480" cy="1428" r="15.5"/></g>
<g id="n155"><circle class="gr" cx="528" cy="1413" r="15.5"/></g>
<g id="n156"><circle class="gn" cx="347" cy="1428" r="15.5"/></g>
<g id="n157"><circle class="gr" cx="576" cy="1564" r="15.5"/></g>
<g id="n158"><circle class="gr" cx="624" cy="1564" r="15.5"/></g>
<g id="n159"><circle class="gr" cx="576" cy="1596" r="15.5"/></g>
<g id="n160"><circle class="gr" cx="576" cy="1635" r="15.5"/></g>
<g id="n161"><circle class="gr" cx="576" cy="1675" r="15.5"/></g>
<g id="n162"><circle class="br" cx="576" cy="1779" r="15.5"/></g>
<g id="n163"><circle class="br" cx="479" cy="1826" r="15.5"/></g>
<g id="n164"><circle class="gr" cx="2253" cy="1023" r="15.5"/></g>
<g id="n165"><circle class="gr" cx="2217" cy="1167" r="15.5"/></g>
<g id="n166"><circle class="gr" cx="2253" cy="1167" r="15.5"/></g>
<g id="n167"><circle class="gr" cx="2314" cy="1167" r="15.5"/></g>
<g id="n168"><circle class="gr" cx="2361" cy="1182" r="15.5"/></g>
<g id="n169"><circle class="gr" cx="2145" cy="1190" r="15.5"/></g>
<g id="n170"><circle class="gn" cx="2060" cy="1190" r="15.5"/></g>
<g id="n171"><circle class="gn" cx="2096" cy="1309" r="15.5"/></g>
<g id="n172"><circle class="gn" cx="2096" cy="1389" r="15.5"/></g>
<g id="n173"><circle class="gr" cx="2277" cy="1500" r="15.5"/></g>
<g id="n174"><circle class="gr" cx="2495" cy="1127" r="15.5"/></g>
<g id="n175"><circle class="gr" cx="2555" cy="1103" r="15.5"/></g>
<g id="n176"><circle class="gr" cx="2555" cy="1182" r="15.5"/></g>
<g id="n177"><circle class="gr" cx="2615" cy="1182" r="15.5"/></g>
<g id="n178"><circle class="gr" cx="2675" cy="1167" r="15.5"/></g>
<g id="n179"><circle class="gr" cx="2723" cy="1167" r="15.5"/></g>
<g id="n180"><circle class="gr" cx="2760" cy="1167" r="15.5"/></g>
<g id="n181"><circle class="gr" cx="2724" cy="1023" r="15.5"/></g>
<g id="n182"><circle class="gr" cx="2760" cy="1023" r="15.5"/></g>
<g id="n183"><circle class="gn" cx="2760" cy="976" r="15.5"/></g>
<g id="n184"><circle class="gr" cx="2844" cy="944" r="15.5"/></g>
<g id="n185"><circle class="gr" cx="2844" cy="1023" r="15.5"/></g>
<g id="n186"><circle class="gr" cx="2868" cy="1023" r="15.5"/></g>
<g id="n187"><circle class="gr" cx="2917" cy="1023" r="15.5"/></g>
<g id="n188"><circle class="gr" cx="2977" cy="1023" r="15.5"/></g>
<g id="n189"><circle class="gr" cx="3037" cy="1023" r="15.5"/></g>
<g id="n190"><circle class="gr" cx="3086" cy="1023" r="15.5"/></g>
<g id="n191"><circle class="br" cx="3629" cy="1023" r="15.5"/></g>
<g id="n192"><circle class="gr" cx="2977" cy="1055" r="15.5"/></g>
<g id="n193"><circle class="gr" cx="2917" cy="912" r="15.5"/></g>
<g id="n194"><circle class="gr" cx="2977" cy="912" r="15.5"/></g>
<g id="n195"><circle class="gr" cx="3037" cy="912" r="15.5"/></g>
<g id="n196"><circle class="gr" cx="3086" cy="912" r="15.5"/></g>
<g id="n197"><circle class="br" cx="3580" cy="912" r="15.5"/></g>
<g id="n198"><circle class="gr" cx="2977" cy="944" r="15.5"/></g>
<g id="n199"><circle class="br" cx="3629" cy="1103" r="15.5"/></g>
<g id="n200"><circle class="gr" cx="2832" cy="1191" r="15.5"/></g>
<g id="n201"><circle class="gn" cx="2917" cy="1191" r="15.5"/></g>
<g id="n202"><circle class="gn" cx="2880" cy="1310" r="15.5"/></g>
<g id="n203"><circle class="gn" cx="2880" cy="1397" r="15.5"/></g>
<g id="n204"><circle class="gr" cx="2700" cy="1499" r="15.5"/></g>
<g id="n205"><circle class="gr" cx="2700" cy="1564" r="15.5"/></g>
<g id="n206"><circle class="gr" cx="3086" cy="1325" r="15.5"/></g>
<g id="n207"><circle class="gr" cx="3231" cy="1286" r="15.5"/></g>
<g id="n208"><circle class="gr" cx="3327" cy="1286" r="15.5"/></g>
<g id="n209"><circle class="gn" cx="3327" cy="1238" r="15.5"/></g>
<g id="n210"><circle class="br" cx="3629" cy="1286" r="15.5"/></g>
<g id="n211"><circle class="gr" cx="3231" cy="1325" r="15.5"/></g>
<g id="n212"><circle class="gn" cx="2965" cy="1357" r="15.5"/></g>
<g id="n213"><circle class="gr" cx="3019" cy="1397" r="15.5"/></g>
<g id="n214"><circle class="gr" cx="3086" cy="1371" r="15.5"/></g>
<g id="n215"><circle class="gr" cx="3086" cy="1397" r="15.5"/></g>
<g id="n216"><circle class="gr" cx="3231" cy="1371" r="15.5"/></g>
<g id="n217"><circle class="gr" cx="3231" cy="1397" r="15.5"/></g>
<g id="n218"><circle class="gr" cx="3303" cy="1397" r="15.5"/></g>
<g id="n219"><circle class="gn" cx="3363" cy="1365" r="15.5"/></g>
<g id="n220"><circle class="gr" cx="3086" cy="1476" r="15.5"/></g>
<g id="n221"><circle class="gr" cx="3116" cy="1476" r="15.5"/></g>
<g id="n222"><circle class="gr" cx="3201" cy="1476" r="15.5"/></g>
<g id="n223"><circle class="gr" cx="3231" cy="1476" r="15.5"/></g>
<g id="n224"><circle class="gr" cx="3158" cy="1516" r="15.5"/></g>
<g id="n225"><circle class="gr" cx="3086" cy="1516" r="15.5"/></g>
<g id="n226"><circle class="gr" cx="3231" cy="1516" r="15.5"/></g>
<g id="n227"><circle class="gr" cx="3086" cy="1563" r="15.5"/></g>
<g id="n228"><circle class="br" cx="3652" cy="1587" r="15.5"/></g>
</g>
</svg>
